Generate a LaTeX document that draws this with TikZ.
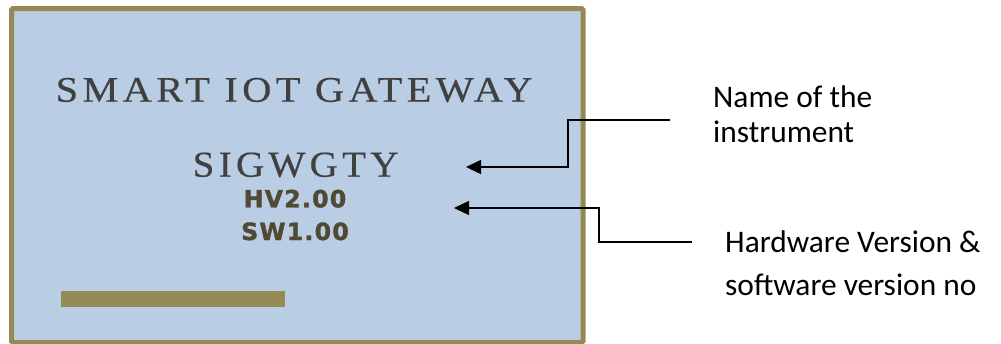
\documentclass[tikz,border=0pt]{standalone}
\usepackage{fontspec}
\usepackage{graphicx}
\usetikzlibrary{arrows.meta}
\setmainfont{Carlito}
\newfontfamily\titlefont[LetterSpace=11,FakeBold=0.4]{Liberation Serif}
\newfontfamily\verfont[LetterSpace=5]{DejaVu Sans}
\definecolor{frameolive}{HTML}{948A54}
\definecolor{panelblue}{HTML}{B9CDE5}
\definecolor{titlegray}{HTML}{404040}
\definecolor{verbrown}{HTML}{514A33}
\tikzset{
  panel/.style={draw=frameolive, fill=panelblue, line width=5pt, rounded corners=1.5pt},
  titletext/.style={inner sep=0pt, anchor=base west, text=titlegray, font=\titlefont\fontsize{36}{40}\selectfont},
  codetext/.style={inner sep=0pt, anchor=base west, text=titlegray, font=\titlefont\fontsize{36.5}{40}\selectfont},
  vertext/.style={inner sep=0pt, anchor=base, text=verbrown, font=\verfont\bfseries\addfontfeature{FakeBold=1.5}\fontsize{23.7}{28}\selectfont},
  note/.style={inner sep=0pt, anchor=base west, align=left, text=black},
  pointer/.style={draw=black, line width=1.6pt, -{Triangle[length=15pt,width=14pt]}}
}
\begin{document}
\begin{tikzpicture}[x=1pt, y=-1pt]
  \useasboundingbox (0,0) rectangle (1001,343);

  % display panel and status bar
  \draw[panel] (11.5,8.5) rectangle (583,342.5);
  \fill[frameolive] (61,291) rectangle (285,306.7);

  % panel texts
  \node[titletext] (title) at (55.5,101.7) {\scalebox{1.12}[1]{SMART IOT GATEWAY}};
  \node[codetext] (code) at (192.5,176.7) {\scalebox{1.07}[1]{SIGWGTY}};
  \node[vertext] (hv) at (295,207.3) {HV2.00};
  \node[vertext] (sw) at (295,240) {SW1.00};

  % callout labels (a multi-line node sits on the baseline of its last line)
  \node[note, font=\fontsize{31.4}{35}\selectfont] (namelbl) at (713,142.7) {Name of the\\instrument};
  \node[note, font=\fontsize{31.4}{42.3}\selectfont] (verlbl) at (725,295) {Hardware Version \&\\software version no};

  % leader lines
  \coordinate (nameStart) at (670,120);
  \coordinate (nameTip) at (466,167);
  \coordinate (verStart) at (692,242);
  \coordinate (verTip) at (454,208);
  \draw[pointer] (nameStart) -- (568,120) -- (568,167) -- (nameTip);
  \draw[pointer] (verStart) -- (599,242) -- (599,208) -- (verTip);
\end{tikzpicture}
\end{document}
